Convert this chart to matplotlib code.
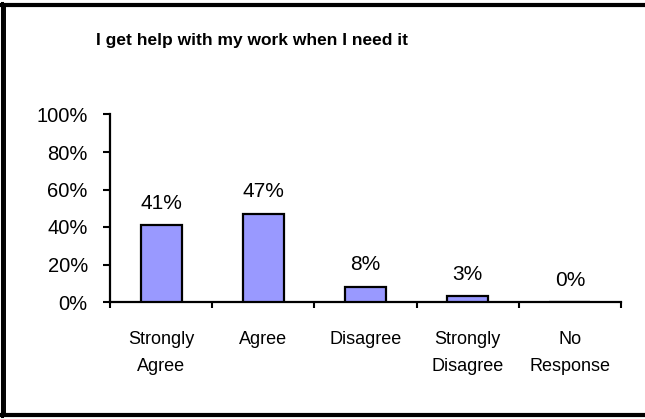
import matplotlib
matplotlib.use('Agg')
import matplotlib.pyplot as plt
from matplotlib.lines import Line2D
from matplotlib.ticker import PercentFormatter

categories = ['Strongly\nAgree', 'Agree', 'Disagree', 'Strongly\nDisagree', 'No\nResponse']
values = [41, 47, 8, 3, 0]
yticks = [0, 20, 40, 60, 80, 100]

plt.rcParams['font.family'] = ['Liberation Sans', 'DejaVu Sans']

W, H = 645, 419
fig = plt.figure(figsize=(W / 100, H / 100), dpi=100)
ax = fig.add_axes([110 / W, (H - 302) / H, (621 - 110) / W, (302 - 114.5) / H])

x = list(range(len(categories)))
ax.bar(x, values, width=0.4, color='#9999FF', edgecolor='black', linewidth=1.6, zorder=3)

for xi, v in zip(x, values):
    ax.annotate('%d%%' % v, (xi, v), xytext=(0, 9), textcoords='offset points',
                ha='center', va='bottom', fontsize=15)

ax.set_xlim(-0.5, len(categories) - 0.5)
ax.set_ylim(0, 100)
ax.set_yticks(yticks)
ax.yaxis.set_major_formatter(PercentFormatter(decimals=0))
ax.tick_params(axis='y', labelsize=14.5, length=5, width=1.5, direction='out', pad=11)

# category ticks sit between bars, labels in the middle
ax.set_xticks([i - 0.5 for i in range(len(categories) + 1)])
ax.set_xticklabels([])
ax.set_xticks(x, minor=True)
ax.set_xticklabels(categories, minor=True, fontsize=13, linespacing=1.75)
ax.tick_params(axis='x', which='major', length=4.5, width=1.5, direction='out')
ax.tick_params(axis='x', which='minor', length=0, pad=21)

for s in ['top', 'right']:
    ax.spines[s].set_visible(False)
for s in ['left', 'bottom']:
    ax.spines[s].set_linewidth(1.6)

fig.text(252 / W, 1 - 41 / H, 'I get help with my work when I need it',
         ha='center', va='center', fontsize=12.5, fontweight='bold')

# outer frame lines
def px(x0, y0, x1, y1, lw):
    fig.add_artist(Line2D([x0 / W, x1 / W], [1 - y0 / H, 1 - y1 / H],
                          transform=fig.transFigure, color='black', linewidth=lw))

px(0, 5, W, 5, 3)
px(2, 3, 2, 416, 2.2)
px(4.8, 5, 4.8, 414, 1.4)
px(0, 414.5, W, 414.5, 3)

fig.savefig('out.png', dpi=100)
